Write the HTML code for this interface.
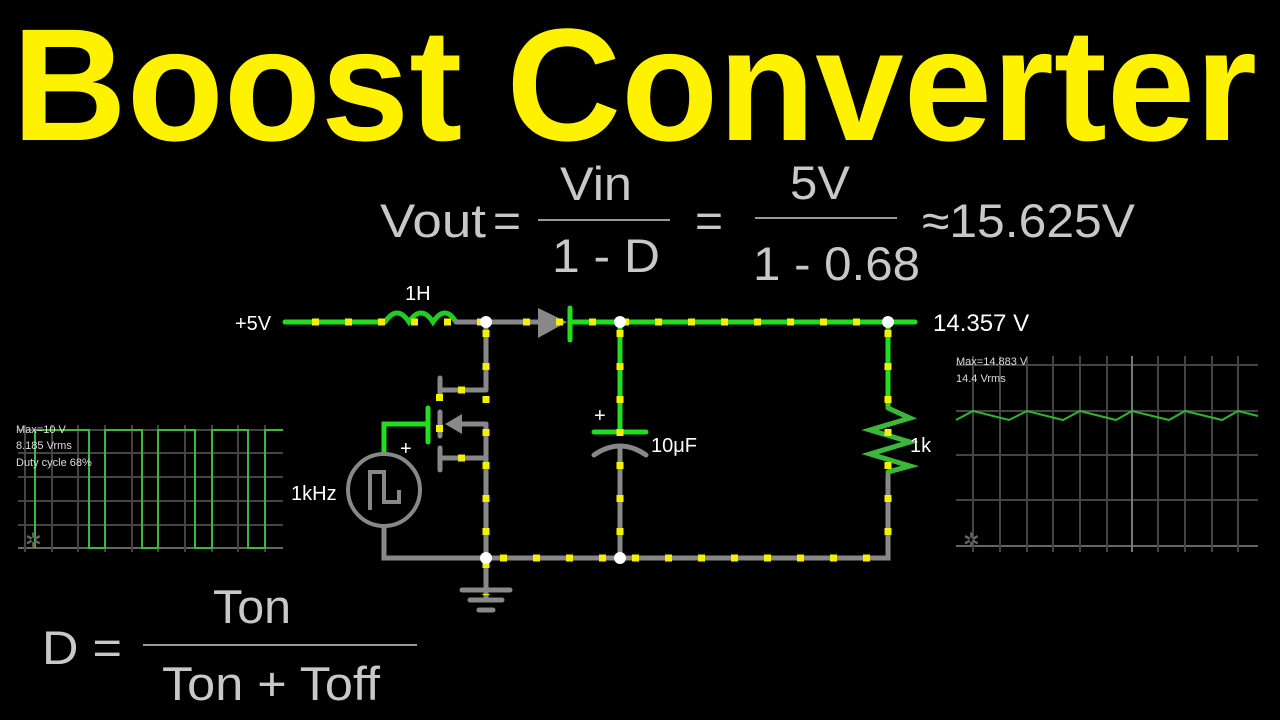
<!DOCTYPE html>
<html><head><meta charset="utf-8"><style>
html,body{margin:0;padding:0;background:#000;width:1280px;height:720px;overflow:hidden}
svg{display:block}
</style></head><body>
<svg width="1280" height="720" viewBox="0 0 1280 720" xmlns="http://www.w3.org/2000/svg" font-family="Liberation Sans, sans-serif">
<rect width="1280" height="720" fill="#000"/>
<text x="12" y="140" font-size="160" font-weight="bold" fill="#fff200" textLength="1245" lengthAdjust="spacingAndGlyphs" font-family="Liberation Sans, sans-serif">Boost Converter</text>

<!-- equation -->
<g fill="#c8c8c8" font-size="47">
<text x="380" y="237" textLength="106" lengthAdjust="spacingAndGlyphs">Vout</text>
<text x="493" y="237" textLength="28" lengthAdjust="spacingAndGlyphs">=</text>
<text x="560" y="200" textLength="72" lengthAdjust="spacingAndGlyphs">Vin</text>
<text x="552" y="272" textLength="108" lengthAdjust="spacingAndGlyphs">1 - D</text>
<text x="695" y="237" textLength="28" lengthAdjust="spacingAndGlyphs">=</text>
<text x="790" y="199" textLength="60" lengthAdjust="spacingAndGlyphs">5V</text>
<text x="753" y="280" textLength="167" lengthAdjust="spacingAndGlyphs">1 - 0.68</text>
<text x="922" y="237" textLength="213" lengthAdjust="spacingAndGlyphs">≈15.625V</text>
<text x="42" y="664" textLength="80" lengthAdjust="spacingAndGlyphs">D =</text>
<text x="213" y="623" textLength="78" lengthAdjust="spacingAndGlyphs">Ton</text>
<text x="162" y="700" textLength="218" lengthAdjust="spacingAndGlyphs">Ton + Toff</text>
</g>
<g stroke="#999" stroke-width="2">
<line x1="538" y1="220" x2="670" y2="220"/>
<line x1="755" y1="218" x2="897" y2="218"/>
<line x1="143" y1="645" x2="417" y2="645"/>
</g>

<!-- left scope -->
<g stroke="#444" stroke-width="2">
<line x1="18" y1="430" x2="283" y2="430"/><line x1="18" y1="453" x2="283" y2="453"/>
<line x1="18" y1="477" x2="283" y2="477"/><line x1="18" y1="501" x2="283" y2="501"/>
<line x1="18" y1="525" x2="283" y2="525"/><line x1="18" y1="548" x2="283" y2="548" stroke="#666"/>
<line x1="25" y1="425" x2="25" y2="552"/><line x1="52" y1="425" x2="52" y2="552"/>
<line x1="78" y1="425" x2="78" y2="552"/><line x1="105" y1="425" x2="105" y2="552"/>
<line x1="132" y1="425" x2="132" y2="552"/><line x1="158" y1="425" x2="158" y2="552"/>
<line x1="185" y1="425" x2="185" y2="552"/><line x1="212" y1="425" x2="212" y2="552"/>
<line x1="238" y1="425" x2="238" y2="552"/><line x1="265" y1="425" x2="265" y2="552"/>
</g>
<polyline fill="none" stroke="#3cb83c" stroke-width="2" points="35,548 35,430 89,430 89,548 105,548 105,430 142,430 142,548 158,548 158,430 195,430 195,548 212,548 212,430 248,430 248,548 265,548 265,430 283,430"/>
<g fill="#ddd" font-size="11"><text x="16" y="433">Max=10 V</text><text x="16" y="449">8.185 Vrms</text><text x="16" y="466">Duty cycle 68%</text></g>
<text x="25" y="547" fill="#666" font-size="20">✲</text>

<!-- right scope -->
<g stroke="#444" stroke-width="2">
<line x1="956" y1="365" x2="1258" y2="365"/><line x1="956" y1="411" x2="1258" y2="411"/>
<line x1="956" y1="455" x2="1258" y2="455"/><line x1="956" y1="500" x2="1258" y2="500"/>
<line x1="956" y1="546" x2="1258" y2="546" stroke="#666"/>
<line x1="973" y1="356" x2="973" y2="552"/><line x1="1000" y1="356" x2="1000" y2="552"/>
<line x1="1027" y1="356" x2="1027" y2="552"/><line x1="1053" y1="356" x2="1053" y2="552"/>
<line x1="1080" y1="356" x2="1080" y2="552"/><line x1="1107" y1="356" x2="1107" y2="552"/>
<line x1="1132" y1="356" x2="1132" y2="552" stroke="#777"/><line x1="1158" y1="356" x2="1158" y2="552"/>
<line x1="1185" y1="356" x2="1185" y2="552"/><line x1="1212" y1="356" x2="1212" y2="552"/>
<line x1="1238" y1="356" x2="1238" y2="552"/>
</g>
<polyline fill="none" stroke="#2db52d" stroke-width="2" points="956,420 973,411 1009,420 1027,411 1063,420 1080,411 1116,420 1132,411 1169,420 1185,411 1222,420 1238,411 1258,416"/>
<g fill="#ddd" font-size="11"><text x="956" y="365">Max=14.883 V</text><text x="956" y="382">14.4 Vrms</text></g>
<text x="963" y="547" fill="#666" font-size="20">✲</text>

<!-- circuit wires -->
<g fill="none" stroke-linecap="round" stroke-width="5">
<line x1="285" y1="322" x2="385" y2="322" stroke="#22dd22"/>
<path d="M385,322 q12,-18 24,0 q12,-18 24,0 q12,-18 23,0" stroke="#22cc22"/>
<line x1="456" y1="322" x2="540" y2="322" stroke="#888"/>
<line x1="570" y1="322" x2="915" y2="322" stroke="#22dd22"/>
<line x1="570" y1="308" x2="570" y2="340" stroke="#22dd22"/>
<line x1="486" y1="322" x2="486" y2="390" stroke="#888"/>
<line x1="440" y1="390" x2="486" y2="390" stroke="#888"/>
<line x1="440" y1="378" x2="440" y2="396" stroke="#888"/>
<line x1="440" y1="412" x2="440" y2="436" stroke="#888"/>
<line x1="440" y1="448" x2="440" y2="470" stroke="#888"/>
<line x1="440" y1="458" x2="486" y2="458" stroke="#888"/>
<line x1="460" y1="424" x2="486" y2="424" stroke="#888"/>
<line x1="486" y1="424" x2="486" y2="600" stroke="#888"/>
<line x1="428" y1="408" x2="428" y2="442" stroke="#22dd22"/>
<polyline points="428,424 384,424 384,453" stroke="#22dd22"/>
<circle cx="384" cy="490" r="36" stroke="#888" stroke-width="4"/>
<polyline points="370,510 370,472 384,472 384,502 399,502 399,490" stroke="#888" stroke-width="4" stroke-linecap="butt"/>
<polyline points="384,527 384,558 888,558 888,475" stroke="#888"/>
<line x1="620" y1="322" x2="620" y2="432" stroke="#22dd22"/>
<line x1="594" y1="432" x2="646" y2="432" stroke="#22dd22"/>
<path d="M594,455 q26,-18 52,0" stroke="#888"/>
<line x1="620" y1="447" x2="620" y2="558" stroke="#888"/>
<line x1="888" y1="322" x2="888" y2="408" stroke="#22dd22"/>
<polyline points="888,408 910,418 870,430 910,442 870,454 910,466 888,472" stroke="#3bb83b" stroke-width="5" stroke-linejoin="miter"/>
<line x1="462" y1="590" x2="510" y2="590" stroke="#888"/>
<line x1="470" y1="600" x2="502" y2="600" stroke="#888"/>
<line x1="479" y1="610" x2="493" y2="610" stroke="#888"/>
</g>
<polygon points="538,308 538,338 567,322" fill="#888"/>
<polygon points="445,424 462,414 462,434" fill="#888"/>

<!-- yellow current dots -->
<g fill="none" stroke="#f5f000" stroke-width="7" stroke-dasharray="7 26">
<line x1="312" y1="322" x2="486" y2="322"/>
<line x1="520" y1="322" x2="915" y2="322" stroke-dashoffset="-3"/>
<line x1="486" y1="330" x2="486" y2="595"/>
<line x1="620" y1="330" x2="620" y2="558"/>
<line x1="888" y1="330" x2="888" y2="558"/>
<line x1="500" y1="558" x2="880" y2="558"/>
<line x1="458" y1="390" x2="486" y2="390"/>
<line x1="458" y1="458" x2="486" y2="458"/>
</g>
<g fill="#f5f000"><rect x="436" y="394" width="7" height="7"/><rect x="436" y="425" width="7" height="7"/></g>

<g fill="#fff">
<circle cx="486" cy="322" r="6"/><circle cx="620" cy="322" r="6"/><circle cx="888" cy="322" r="6"/>
<circle cx="486" cy="558" r="6"/><circle cx="620" cy="558" r="6"/>
</g>
<g fill="#fff" font-size="20">
<text x="235" y="330">+5V</text>
<text x="405" y="300">1H</text>
<text x="933" y="331" font-size="24">14.357 V</text>
<text x="651" y="452">10μF</text>
<text x="910" y="452">1k</text>
<text x="291" y="500">1kHz</text>
<text x="400" y="455">+</text>
<text x="594" y="422">+</text>
</g>
</svg>
</body></html>
